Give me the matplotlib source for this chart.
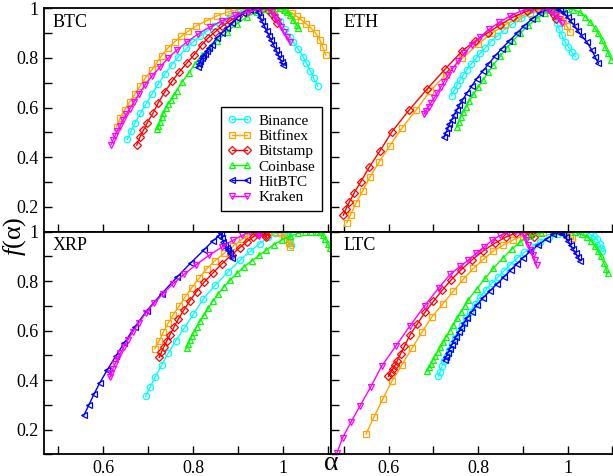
import matplotlib.pyplot as plt
from matplotlib.ticker import MultipleLocator, FuncFormatter

plt.rcParams['font.family'] = ['Liberation Serif', 'DejaVu Serif']
plt.rcParams['mathtext.fontset'] = 'custom'
plt.rcParams['mathtext.it'] = 'Liberation Serif:italic'
plt.rcParams['mathtext.rm'] = 'Liberation Serif'

exchanges = ['Binance', 'Bitfinex', 'Bitstamp', 'Coinbase', 'HitBTC', 'Kraken']
colors = ['#00ffff', '#ffa500', '#ff0000', '#00ff00', '#0000ff', '#ff00ff']
markers = ['o', 's', 'D', '^', '<', 'v']

# singularity spectra: (alpha, f(alpha)) per exchange
btc = {
    'Binance': ([0.654, 0.662, 0.671, 0.683, 0.695, 0.708, 0.722, 0.737, 0.752, 0.767, 0.785, 0.800, 0.815, 0.830,
                 0.846, 0.864, 0.881, 0.899, 0.917, 0.935, 0.952, 0.968, 0.980, 0.992, 1.003, 1.014, 1.022, 1.033,
                 1.044, 1.051, 1.060, 1.067, 1.076],
                [0.472, 0.505, 0.539, 0.577, 0.614, 0.653, 0.694, 0.734, 0.771, 0.805, 0.839, 0.865, 0.888, 0.908,
                 0.929, 0.949, 0.969, 0.985, 0.993, 0.999, 1.000, 0.995, 0.978, 0.950, 0.918, 0.886, 0.865, 0.835,
                 0.805, 0.778, 0.748, 0.718, 0.687]),
    'Bitfinex': ([0.630, 0.638, 0.648, 0.659, 0.670, 0.682, 0.694, 0.708, 0.719, 0.730, 0.743, 0.759, 0.774, 0.789,
                  0.807, 0.830, 0.852, 0.878, 0.904, 0.930, 0.955, 0.980, 1.003, 1.019, 1.030, 1.040, 1.051, 1.062,
                  1.072, 1.081, 1.087, 1.094],
                 [0.523, 0.559, 0.590, 0.623, 0.653, 0.687, 0.720, 0.751, 0.781, 0.809, 0.839, 0.865, 0.888, 0.908,
                  0.929, 0.950, 0.969, 0.986, 0.997, 1.000, 1.000, 0.998, 0.993, 0.981, 0.967, 0.953, 0.937, 0.919,
                  0.899, 0.872, 0.845, 0.812]),
    'Bitstamp': ([0.6745, 0.6818, 0.6896, 0.698, 0.7113, 0.7224, 0.7373, 0.7534, 0.769, 0.7854, 0.8016, 0.8186,
                  0.8326, 0.8481, 0.8636, 0.8814, 0.8991, 0.9169, 0.9346, 0.9523, 0.9656, 0.9745, 0.9812, 0.9862],
                 [0.449, 0.481, 0.509, 0.539, 0.579, 0.619, 0.664, 0.707, 0.744, 0.778, 0.812, 0.852, 0.880, 0.904,
                  0.927, 0.949, 0.969, 0.983, 0.993, 0.999, 0.995, 0.977, 0.959, 0.941]),
    'Coinbase': ([0.7188, 0.7228, 0.7262, 0.7299, 0.7339, 0.7388, 0.7439, 0.7506, 0.7572, 0.7632, 0.7756, 0.7905,
                  0.8038, 0.8186, 0.8348, 0.8519, 0.8741, 0.8962, 0.9184, 0.9406, 0.9612, 0.9812, 0.9945, 1.0011,
                  1.0078, 1.0144, 1.0217, 1.0293, 1.0328],
                 [0.512, 0.525, 0.542, 0.562, 0.580, 0.597, 0.614, 0.630, 0.650, 0.668, 0.704, 0.740, 0.777, 0.810,
                  0.840, 0.868, 0.904, 0.937, 0.965, 0.985, 0.997, 1.000, 1.000, 0.995, 0.986, 0.973, 0.953, 0.933,
                  0.919]),
    'HitBTC': ([0.8111, 0.8137, 0.816, 0.8193, 0.8226, 0.8259, 0.8304, 0.8348, 0.8408, 0.8519, 0.863, 0.8741, 0.8851,
                0.8962, 0.9109, 0.9257, 0.939, 0.943, 0.948, 0.953, 0.958, 0.963, 0.968, 0.973, 0.978, 0.983, 0.988,
                0.992, 0.996, 0.9996],
               [0.765, 0.777, 0.787, 0.798, 0.808, 0.816, 0.828, 0.840, 0.852, 0.879, 0.899, 0.919, 0.940, 0.960,
                0.980, 0.993, 1.000, 0.985, 0.966, 0.947, 0.928, 0.909, 0.890, 0.871, 0.853, 0.834, 0.815, 0.800,
                0.785, 0.771]),
    'Kraken': ([0.6182, 0.622, 0.6264, 0.6319, 0.6375, 0.6441, 0.6519, 0.6596, 0.6685, 0.6796, 0.6929, 0.7084, 0.7262,
                0.7439, 0.7639, 0.786, 0.8104, 0.837, 0.8636, 0.8925, 0.9213, 0.9479, 0.9656, 0.9745, 0.9812, 0.9878,
                0.9945, 1.0011, 1.0078, 1.0144],
               [0.451, 0.469, 0.487, 0.507, 0.525, 0.550, 0.574, 0.596, 0.622, 0.654, 0.691, 0.727, 0.763, 0.798,
                0.832, 0.864, 0.896, 0.925, 0.949, 0.971, 0.987, 0.997, 1.000, 0.985, 0.965, 0.945, 0.925, 0.904,
                0.884, 0.864]),
}

eth = {
    'Binance': ([0.7409, 0.7461, 0.7521, 0.7595, 0.7669, 0.7752, 0.7841, 0.7946, 0.8043, 0.8154, 0.8277, 0.8423,
                 0.8579, 0.8758, 0.896, 0.9161, 0.9362, 0.9541, 0.9676, 0.9732, 0.9765, 0.981, 0.987, 0.9944, 1.0018,
                 1.0094, 1.0168],
                [0.648, 0.669, 0.689, 0.711, 0.731, 0.753, 0.775, 0.798, 0.818, 0.840, 0.864, 0.888, 0.912, 0.937,
                 0.959, 0.977, 0.991, 0.999, 0.989, 0.965, 0.941, 0.917, 0.892, 0.865, 0.845, 0.825, 0.806]),
    'Bitfinex': ([0.506, 0.5145, 0.5268, 0.5418, 0.5582, 0.5783, 0.6018, 0.6291, 0.6611, 0.6924, 0.7282, 0.764, 0.7998,
                  0.8311, 0.8602, 0.8893, 0.9161, 0.9407, 0.9609, 0.9743, 0.9832, 0.9906, 0.9982, 1.0056],
                 [0.1355, 0.169, 0.216, 0.265, 0.321, 0.381, 0.445, 0.517, 0.590, 0.667, 0.733, 0.798, 0.856, 0.900,
                  0.933, 0.961, 0.983, 0.995, 1.000, 0.989, 0.969, 0.949, 0.929, 0.904]),
    'Bitstamp': ([0.4984, 0.5038, 0.5119, 0.5224, 0.5374, 0.5559, 0.5805, 0.6067, 0.6454, 0.685, 0.726, 0.7647, 0.7931,
                  0.8221, 0.849, 0.8781, 0.9094, 0.934, 0.9519, 0.9631, 0.9698, 0.9743],
                 [0.1665, 0.190, 0.220, 0.256, 0.301, 0.359, 0.426, 0.502, 0.590, 0.673, 0.755, 0.829, 0.868, 0.902,
                  0.933, 0.965, 0.989, 0.999, 1.000, 0.989, 0.973, 0.957]),
    'Coinbase': ([0.7521, 0.7566, 0.7611, 0.7669, 0.7729, 0.7803, 0.7893, 0.8004, 0.8116, 0.8228, 0.834, 0.849, 0.864,
                  0.8787, 0.8937, 0.9123, 0.9311, 0.9497, 0.9676, 0.9855, 0.9989, 1.013, 1.028, 1.0391, 1.0503, 1.0615,
                  1.0689, 1.0765, 1.0839, 1.0913, 1.0973],
                 [0.520, 0.543, 0.563, 0.583, 0.603, 0.628, 0.654, 0.683, 0.713, 0.743, 0.773, 0.806, 0.840, 0.870,
                  0.900, 0.931, 0.959, 0.981, 0.995, 1.000, 0.999, 0.995, 0.985, 0.966, 0.946, 0.919, 0.899, 0.872,
                  0.845, 0.819, 0.792]),
    'HitBTC': ([0.7237, 0.7275, 0.732, 0.7356, 0.7409, 0.7461, 0.7521, 0.7579, 0.7647, 0.7745, 0.7857, 0.7969, 0.8103,
                0.8228, 0.8378, 0.8528, 0.8698, 0.8864, 0.9027, 0.9199, 0.9385, 0.9564, 0.972, 0.9832, 0.9922, 1.0,
                1.0078, 1.0157, 1.0235, 1.0324, 1.043, 1.0541, 1.0615, 1.0689],
               [0.480, 0.498, 0.516, 0.533, 0.550, 0.570, 0.590, 0.610, 0.630, 0.657, 0.687, 0.717, 0.747, 0.775,
                0.808, 0.838, 0.869, 0.899, 0.929, 0.956, 0.981, 0.997, 1.000, 0.993, 0.981, 0.965, 0.947, 0.929,
                0.908, 0.888, 0.865, 0.832, 0.805, 0.778]),
    'Kraken': ([0.679, 0.6834, 0.689, 0.6946, 0.7013, 0.708, 0.7159, 0.7237, 0.7327, 0.7427, 0.755, 0.7685, 0.7864,
                0.8043, 0.8244, 0.8468, 0.8714, 0.896, 0.9206, 0.943, 0.9564, 0.9653, 0.9732, 0.981, 0.9877],
               [0.574, 0.588, 0.604, 0.620, 0.638, 0.658, 0.681, 0.705, 0.731, 0.757, 0.787, 0.818, 0.854, 0.884,
                0.915, 0.943, 0.969, 0.989, 0.999, 1.000, 0.995, 0.985, 0.971, 0.955, 0.939]),
}

xrp = {
    'Binance': ([0.6945, 0.7047, 0.7151, 0.7299, 0.7446, 0.7616, 0.78, 0.8004, 0.8226, 0.8492, 0.8776, 0.9035, 0.9257,
                 0.9479, 0.9656, 0.9812, 0.9922, 1.0011, 1.0055, 1.01, 1.0133, 1.0155, 1.0177],
                [0.335, 0.373, 0.411, 0.460, 0.510, 0.560, 0.610, 0.666, 0.729, 0.785, 0.838, 0.884, 0.920, 0.952,
                 0.977, 0.993, 1.000, 1.000, 0.999, 0.991, 0.979, 0.965, 0.946]),
    'Bitfinex': ([0.7151, 0.7246, 0.7335, 0.7446, 0.7557, 0.7683, 0.7816, 0.7965, 0.8126, 0.8297, 0.8481, 0.8681,
                  0.8887, 0.908, 0.9257, 0.9435, 0.9612, 0.9789, 0.9922, 1.0011, 1.0078, 1.0122, 1.0155],
                 [0.527, 0.559, 0.594, 0.631, 0.664, 0.698, 0.734, 0.773, 0.811, 0.850, 0.882, 0.912, 0.942, 0.969,
                  0.989, 0.999, 1.000, 0.999, 0.995, 0.985, 0.969, 0.954, 0.940]),
    'Bitstamp': ([0.7246, 0.7295, 0.735, 0.741, 0.7483, 0.7572, 0.7667, 0.7794, 0.7927, 0.8075, 0.8237, 0.8437, 0.8636,
                  0.8851, 0.9035, 0.9191, 0.9324, 0.9435, 0.9523, 0.959, 0.9612, 0.9623],
                 [0.492, 0.513, 0.535, 0.557, 0.583, 0.614, 0.646, 0.684, 0.721, 0.758, 0.795, 0.833, 0.870, 0.906,
                  0.936, 0.960, 0.979, 0.991, 0.998, 0.997, 0.987, 0.977]),
    'Coinbase': ([0.7854, 0.7889, 0.7927, 0.7965, 0.8016, 0.8075, 0.8149, 0.8237, 0.8333, 0.8443, 0.8554, 0.8681,
                  0.8814, 0.8969, 0.9124, 0.9295, 0.9457, 0.9623, 0.9789, 0.9967, 1.0144, 1.0322, 1.0477, 1.061,
                  1.0736, 1.0809, 1.0876, 1.0931, 1.0987, 1.1031],
                 [0.530, 0.547, 0.563, 0.577, 0.595, 0.616, 0.638, 0.662, 0.690, 0.721, 0.749, 0.777, 0.803, 0.831,
                  0.858, 0.882, 0.904, 0.926, 0.948, 0.967, 0.981, 0.993, 1.000, 1.000, 1.000, 0.999, 0.987, 0.969,
                  0.950, 0.934]),
    'HitBTC': ([0.5576, 0.5687, 0.5798, 0.5931, 0.6093, 0.6279, 0.647, 0.6707, 0.6967, 0.7299, 0.7632, 0.7942, 0.8237,
                0.8437, 0.857, 0.8614, 0.8636, 0.867, 0.8703, 0.8747, 0.878, 0.8814, 0.8851],
               [0.258, 0.300, 0.343, 0.390, 0.441, 0.496, 0.550, 0.615, 0.680, 0.749, 0.815, 0.873, 0.926, 0.963,
                0.983, 0.995, 0.975, 0.958, 0.946, 0.934, 0.924, 0.913, 0.893]),
    'Kraken': ([0.6153, 0.6186, 0.622, 0.6264, 0.6319, 0.6386, 0.6463, 0.6552, 0.6663, 0.6796, 0.6951, 0.7129, 0.7328,
                0.755, 0.7794, 0.806, 0.8348, 0.8636, 0.888, 0.908, 0.9257, 0.939, 0.9435, 0.9457],
               [0.411, 0.430, 0.446, 0.465, 0.485, 0.509, 0.535, 0.563, 0.596, 0.632, 0.672, 0.710, 0.749, 0.789,
                0.827, 0.866, 0.904, 0.938, 0.965, 0.985, 0.997, 0.999, 0.991, 0.983]),
}

ltc = {
    'Binance': ([0.711, 0.7148, 0.7192, 0.7237, 0.7293, 0.7349, 0.7416, 0.7483, 0.7562, 0.764, 0.7729, 0.7819, 0.7931,
                 0.8043, 0.8177, 0.8311, 0.8445, 0.8579, 0.8714, 0.887, 0.9027, 0.9206, 0.9385, 0.9586, 0.9787,
                 0.9989, 1.019, 1.0369, 1.0503, 1.0593, 1.066, 1.0716, 1.0749, 1.0772],
                [0.416, 0.434, 0.456, 0.476, 0.499, 0.521, 0.545, 0.571, 0.598, 0.624, 0.650, 0.676, 0.706, 0.737,
                 0.765, 0.793, 0.817, 0.842, 0.866, 0.893, 0.916, 0.940, 0.960, 0.979, 0.991, 0.999, 1.000, 0.999,
                 0.991, 0.981, 0.969, 0.952, 0.936, 0.922]),
    'Bitfinex': ([0.5492, 0.5671, 0.5866, 0.6067, 0.6291, 0.6515, 0.6738, 0.6962, 0.7208, 0.7445, 0.7669, 0.7893,
                  0.8116, 0.834, 0.8564, 0.8787, 0.9011, 0.9228, 0.9452, 0.9676, 0.9855, 0.9966, 1.0045, 1.0101],
                 [0.183, 0.252, 0.324, 0.395, 0.461, 0.528, 0.593, 0.655, 0.708, 0.760, 0.808, 0.852, 0.888, 0.922,
                  0.946, 0.967, 0.983, 0.997, 1.000, 1.000, 0.997, 0.991, 0.983, 0.975]),
    'Bitstamp': ([0.5991, 0.604, 0.6089, 0.6141, 0.6192, 0.6264, 0.6347, 0.6477, 0.664, 0.6812, 0.6998, 0.7192, 0.7394,
                  0.7617, 0.7864, 0.811, 0.8378, 0.8624, 0.8848, 0.9027, 0.9139, 0.9206, 0.9251],
                 [0.415, 0.430, 0.445, 0.460, 0.479, 0.507, 0.536, 0.583, 0.628, 0.675, 0.718, 0.763, 0.805, 0.846,
                  0.886, 0.922, 0.954, 0.979, 0.995, 1.000, 0.999, 0.991, 0.979]),
    'Coinbase': ([0.685, 0.6895, 0.694, 0.6991, 0.7036, 0.7092, 0.7148, 0.7215, 0.7275, 0.736, 0.7445, 0.7528, 0.7611,
                  0.7696, 0.7781, 0.7969, 0.8154, 0.834, 0.855, 0.8752, 0.8937, 0.9161, 0.9407, 0.9676, 0.9944,
                  1.0168, 1.0324, 1.0436, 1.0526, 1.0615, 1.0682, 1.0749, 1.0817, 1.0861, 1.0895],
                 [0.435, 0.452, 0.467, 0.483, 0.499, 0.515, 0.532, 0.553, 0.573, 0.598, 0.624, 0.650, 0.675, 0.700,
                  0.725, 0.769, 0.811, 0.852, 0.893, 0.930, 0.958, 0.981, 0.995, 1.000, 1.000, 0.997, 0.989, 0.979,
                  0.963, 0.942, 0.922, 0.900, 0.872, 0.850, 0.831]),
    'HitBTC': ([0.7248, 0.7282, 0.7315, 0.736, 0.7405, 0.745, 0.7506, 0.7562, 0.7617, 0.7685, 0.7752, 0.7857, 0.7969,
                0.811, 0.8266, 0.8423, 0.8579, 0.8725, 0.8864, 0.9004, 0.9161, 0.934, 0.9535, 0.9676, 0.9787, 0.9855,
                0.9899, 0.9955, 1.0011, 1.0067, 1.0123, 1.0179, 1.0235, 1.028],
               [0.481, 0.495, 0.509, 0.525, 0.541, 0.557, 0.575, 0.594, 0.612, 0.632, 0.651, 0.677, 0.704, 0.733,
                0.761, 0.789, 0.817, 0.844, 0.869, 0.894, 0.920, 0.946, 0.971, 0.989, 0.999, 1.000, 0.991, 0.977,
                0.962, 0.946, 0.930, 0.914, 0.898, 0.882]),
    'Kraken': ([0.4837, 0.4966, 0.5152, 0.5358, 0.5597, 0.5839, 0.6159, 0.6477, 0.6801, 0.7114, 0.7371, 0.7595, 0.7774,
                0.7953, 0.8132, 0.8311, 0.849, 0.8669, 0.8826, 0.8937, 0.9016, 0.9072, 0.9123, 0.9172, 0.9217, 0.9262,
                0.9306],
               [0.104, 0.167, 0.230, 0.296, 0.373, 0.456, 0.538, 0.620, 0.700, 0.772, 0.827, 0.860, 0.884, 0.912,
                0.938, 0.965, 0.985, 0.997, 1.000, 0.999, 0.987, 0.967, 0.946, 0.926, 0.906, 0.886, 0.864]),
}

W, H = 613, 476
fig = plt.figure(figsize=(W / 100, H / 100), dpi=100)


def panel(x0, y0, x1, y1):
    # box given in pixels, origin top left
    return fig.add_axes([x0 / W, 1 - y1 / H, (x1 - x0) / W, (y1 - y0) / H])


panels = [
    ('BTC', btc, panel(44, 8.3, 330.7, 231.7), (0.469, 1.105)),
    ('ETH', eth, panel(330.7, 8.3, 614, 231.7), (0.470, 1.104)),
    ('XRP', xrp, panel(44, 231.7, 330.7, 454.3), (0.469, 1.105)),
    ('LTC', ltc, panel(330.7, 231.7, 614, 454.3), (0.470, 1.104)),
]

fmt = FuncFormatter(lambda v, p: '%g' % round(v, 2))

for i, (name, data, ax, xl) in enumerate(panels):
    for ex, c, m in zip(exchanges, colors, markers):
        a, f = data[ex]
        ax.plot(a, f, color=c, marker=m, ms=4.0 if m == 'D' else 4.6, mfc='none', mew=0.9, lw=1.0, label=ex)
    ax.set_xlim(*xl)
    ax.set_ylim(0.1, 1.0)
    ax.xaxis.set_major_locator(MultipleLocator(0.2))
    ax.xaxis.set_minor_locator(MultipleLocator(0.1))
    ax.yaxis.set_major_locator(MultipleLocator(0.2))
    ax.yaxis.set_minor_locator(MultipleLocator(0.1))
    ax.xaxis.set_major_formatter(fmt)
    ax.yaxis.set_major_formatter(fmt)
    ax.tick_params(which='both', direction='in', length=6, width=1, top=False, right=False,
                   labelsize=13, pad=4)
    ax.tick_params(labelbottom=i >= 2, labelleft=i % 2 == 0)
    for s in ax.spines.values():
        s.set_linewidth(1.3)
    lx = 0.031 if i % 2 == 0 else 0.044
    ax.text(lx, 0.975, name, transform=ax.transAxes, ha='left', va='top', fontsize=13)

leg = panels[0][2].legend(loc='upper left', bbox_to_anchor=(0.616, 0.557), borderaxespad=0, fontsize=11,
                          handlelength=1.6, handletextpad=0.4, labelspacing=0.1, borderpad=0.45,
                          fancybox=False, edgecolor='black', framealpha=1, numpoints=2)
leg.get_frame().set_linewidth(1.0)

fig.text(15 / W, 1 - 236 / H, r'$f$(α)', rotation=90, ha='center', va='center', fontsize=19)
fig.text(331 / W, 0.5 / H, 'α', ha='center', va='bottom', fontsize=20)

fig.savefig('out.png', dpi=100)
